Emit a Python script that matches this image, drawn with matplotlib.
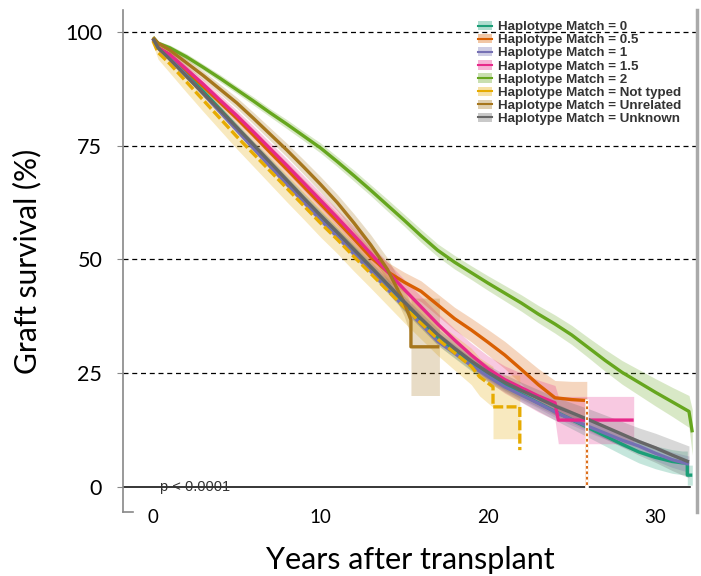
import matplotlib
matplotlib.use('Agg')
import matplotlib.pyplot as plt
from matplotlib.lines import Line2D
from matplotlib.patches import Patch
import numpy as np

plt.rcParams['font.family'] = ['Lato', 'DejaVu Sans']

# ---- data (years after transplant, survival %) ----
labels = ['Haplotype Match = 0', 'Haplotype Match = 0.5', 'Haplotype Match = 1',
          'Haplotype Match = 1.5', 'Haplotype Match = 2', 'Haplotype Match = Not typed',
          'Haplotype Match = Unrelated', 'Haplotype Match = Unknown']
colors = ['#1B9E77', '#D95F02', '#7570B3', '#E7298A', '#66A61E', '#E6AB02', '#A6761D', '#666666']

yr_m0 = [0, 0.3] + list(range(1, 32)) + [31.6, 31.9, 31.9, 32.2]
surv_m0 = [98.5, 96.5, 94.5, 90.7, 86.9, 83, 79, 75, 71, 67.1, 63.2, 59.4,
           55.6, 51.8, 48, 44, 40, 36.3, 32.6, 29.8, 27, 24.6,
           22.4, 20.4, 18.5, 16.6, 14.8, 13, 11.2, 9.4, 7.7, 6.5,
           5.6, 5.3, 5.3, 2.6, 2.6]
ci_m0 = [0.3, 0.5, 0.6, 0.7, 0.8, 0.8, 0.9, 0.9, 1, 1, 1, 1.1,
         1.1, 1.2, 1.2, 1.3, 1.3, 1.4, 1.4, 1.5, 1.5, 1.6,
         1.6, 1.7, 1.8, 1.9, 2, 2.1, 2.2, 2.3, 2.4, 2.5,
         2.6, 2.6, 2.6, 2.2, 2.2]

yr_m05 = [0, 0.3] + list(range(1, 26)) + [25.9, 25.9]
surv_m05 = [98.5, 96.5, 95, 91.5, 88, 84.5, 81, 77.3, 73.5, 69.8, 66, 62.2,
            58.4, 54.5, 50.5, 47.3, 45, 43, 40, 37, 34.5, 31.8,
            29, 25.8, 22.5, 19.6, 19.2, 19, 0]
ci_m05 = [0.4, 0.6, 0.8, 0.9, 1, 1.1, 1.2, 1.3, 1.4, 1.5, 1.6, 1.7,
          1.8, 1.9, 2, 2.1, 2.2, 2.3, 2.4, 2.5, 2.6, 2.8,
          3, 3.2, 3.5, 3.8, 4, 4.2, 0]

yr_m1 = [0, 0.3] + list(range(1, 33))
surv_m1 = [98.5, 96.5, 94.3, 90.4, 86.4, 82.4, 78.4, 74.4, 70.4, 66.5, 62.6, 58.7,
           55, 51.2, 47.5, 43.5, 39.5, 35.8, 32, 29.4, 26.7, 24.3,
           22, 20.2, 18.4, 16.5, 14.8, 13.3, 11.8, 10.3, 9, 7.4,
           6, 5]
ci_m1 = [0.3, 0.4, 0.5, 0.5, 0.6, 0.6, 0.6, 0.7, 0.7, 0.7, 0.7, 0.8,
         0.8, 0.8, 0.8, 0.9, 0.9, 0.9, 0.9, 1, 1, 1,
         1, 1.1, 1.1, 1.2, 1.2, 1.3, 1.3, 1.4, 1.5, 1.6,
         1.7, 1.8]

yr_m15 = [0, 0.3] + list(range(1, 25)) + [24.2, 28.7]
surv_m15 = [98.5, 96.5, 95, 91.8, 88.5, 85, 81.6, 78, 74.3, 70.6, 66.8, 63,
            59.2, 55.3, 51.3, 47.3, 43.4, 39.6, 35.8, 32.3, 29, 26,
            23.6, 21.8, 20, 18.5, 14.7, 14.7]
ci_m15 = [0.4, 0.6, 0.8, 0.9, 1, 1.1, 1.2, 1.3, 1.4, 1.5, 1.6, 1.7,
          1.8, 1.9, 2, 2.1, 2.2, 2.3, 2.4, 2.5, 2.6, 2.8,
          3, 3.2, 3.5, 3.8, 5.2, 5.2]

yr_m2 = [0, 0.3] + list(range(1, 33)) + [32.2]
surv_m2 = [98.8, 97.5, 96.5, 94.5, 92.2, 89.8, 87.3, 84.8, 82.2, 79.7, 77.1, 74.5,
           71.5, 68.4, 65.2, 61.9, 58.6, 55.2, 52, 49.4, 47.1, 44.8,
           42.6, 40.4, 38, 35.8, 33.4, 30.6, 27.8, 25.2, 23, 20.8,
           18.7, 16.6, 12]
ci_m2 = [0.3, 0.5, 0.6, 0.7, 0.7, 0.8, 0.8, 0.9, 0.9, 1, 1, 1.1,
         1.1, 1.2, 1.2, 1.3, 1.3, 1.4, 1.4, 1.5, 1.5, 1.6,
         1.7, 1.8, 1.9, 2, 2.1, 2.2, 2.4, 2.6, 2.8, 3,
         3.2, 3.5, 5]

yr_nt = [0, 0.3] + list(range(1, 20)) + [19.5, 20.3, 20.3, 21.9, 21.9]
surv_nt = [98, 95.5, 93, 89, 85, 81, 77, 73.2, 69.4, 65.6, 61.8, 58,
           54.4, 50.6, 46.9, 43.2, 39.5, 36, 32.5, 29.5, 26.5,
           24.2, 22, 17.6, 17.6, 8.1]
ci_nt = [0.8, 1.5, 2, 2.3, 2.5, 2.6, 2.7, 2.8, 2.9, 3, 3, 3.1,
         3.1, 3.2, 3.2, 3.3, 3.4, 3.5, 3.6, 3.8, 4,
         4.2, 4.5, 7, 7, 6.6]

yr_un = [0, 0.3] + list(range(1, 16)) + [15.4, 15.4, 17.1]
surv_un = [98.8, 97.5, 96, 93.2, 90.4, 87.4, 84.4, 81, 77.5, 74, 70.3, 66.5,
           62.5, 58, 53.2, 47.8, 40.5, 36.7, 30.8, 30.8]
ci_un = [0.4, 0.6, 0.8, 0.9, 1, 1.1, 1.2, 1.3, 1.4, 1.5, 1.6, 1.7,
         1.8, 2, 2.2, 2.5, 3, 3.5, 10.7, 10.7]

yr_uk = [0, 0.3] + list(range(1, 33))
surv_uk = [98.5, 96.5, 94, 90.2, 86.5, 82.8, 79, 75.2, 71.3, 67.4, 63.5, 59.7,
           56, 52.2, 48.4, 44.6, 40.7, 37, 33.5, 30.5, 27.7, 25.2,
           23, 21.2, 19.5, 17.8, 16.3, 14.8, 13.2, 11.6, 10, 8.6,
           7, 5.5]
ci_uk = [0.3, 0.5, 0.6, 0.6, 0.7, 0.7, 0.8, 0.8, 0.9, 0.9, 1, 1,
         1, 1.1, 1.1, 1.2, 1.2, 1.3, 1.3, 1.4, 1.5, 1.6,
         1.7, 1.8, 1.9, 2, 2.2, 2.4, 2.6, 2.8, 3, 3.2,
         3.4, 3.5]

series = [(yr_m0, surv_m0, ci_m0), (yr_m05, surv_m05, ci_m05), (yr_m1, surv_m1, ci_m1),
          (yr_m15, surv_m15, ci_m15), (yr_m2, surv_m2, ci_m2), (yr_nt, surv_nt, ci_nt),
          (yr_un, surv_un, ci_un), (yr_uk, surv_uk, ci_uk)]
linestyles = ['-', '-', '-', '-', '-', (0, (3, 1)), '-', '-']

x_ticks = [0, 10, 20, 30]
y_ticks = [0, 25, 50, 75, 100]

# ---- figure ----
fig = plt.figure(figsize=(7.01, 5.76), dpi=100)
ax = fig.add_axes([0.1755, 0.1111, 0.8188, 0.8715])
ax.set_xlim(-1.79, 32.48)
ax.set_ylim(-5.5, 104.8)

for yv in y_ticks[1:]:
    ax.axhline(yv, color='black', lw=0.9, linestyle=(0, (4, 3)), zorder=1)
ax.axhline(0, xmax=0.988, color='black', lw=1.1, zorder=1)

for (x, s, c), col in zip(series, colors):
    x = np.asarray(x, float)
    s = np.asarray(s, float)
    c = np.asarray(c, float)
    ax.fill_between(x, s - c, s + c, color=col, alpha=0.25, lw=0, zorder=2)

for (x, s, c), col, ls in zip(series, colors, linestyles):
    ax.plot(x, s, color=col, lw=2.4, linestyle=ls, zorder=3,
            solid_capstyle='butt', solid_joinstyle='round')

# final drop of the 0.5 curve is drawn dotted
ax.plot(yr_m05[-2:], surv_m05[-2:], color='white', lw=2.6, zorder=3.5)
ax.plot(yr_m05[-2:], surv_m05[-2:], color=colors[1], lw=1.3,
        linestyle=(0, (1.5, 1.5)), zorder=3.6)

ax.text(0.4, 0, 'p < 0.0001', fontsize=10.5, color='#333333', va='center',
        family=['Liberation Sans', 'DejaVu Sans'], zorder=4)

# axes styling
ax.spines['top'].set_visible(False)
ax.spines['left'].set_color('#888888')
ax.spines['left'].set_linewidth(1.2)
ax.spines['bottom'].set_color('#888888')
ax.spines['bottom'].set_linewidth(1.2)
ax.spines['bottom'].set_bounds(-1.79, -1.2)
ax.spines['right'].set_color('#aaaaaa')
ax.spines['right'].set_linewidth(2.5)

ax.set_xticks(x_ticks)
ax.set_xticklabels([str(v) for v in x_ticks])
ax.set_yticks(y_ticks)
ax.set_yticklabels([str(v) for v in y_ticks])
ax.tick_params(axis='x', length=0, labelsize=13.5, pad=-2)
ax.tick_params(axis='y', length=4, color='#888888', labelsize=15.5, pad=11)

ax.set_xlabel('Years after transplant', fontsize=22, labelpad=14)
ax.set_ylabel('Graft survival (%)', fontsize=21.5, labelpad=17)

handles = [(Patch(facecolor=col, alpha=0.35, lw=0), Line2D([], [], color=col, lw=1.5))
           for col in colors]
leg = ax.legend(handles, labels, loc='upper left', bbox_to_anchor=(0.603, 0.997),
                frameon=False, handlelength=1.0, handletextpad=0.5, labelspacing=0.06,
                borderpad=0.2, prop={'family': ['Liberation Sans', 'DejaVu Sans'],
                                     'weight': 'bold', 'size': 9.6})
for t in leg.get_texts():
    t.set_color('#333333')

fig.savefig('out.png', dpi=100)
